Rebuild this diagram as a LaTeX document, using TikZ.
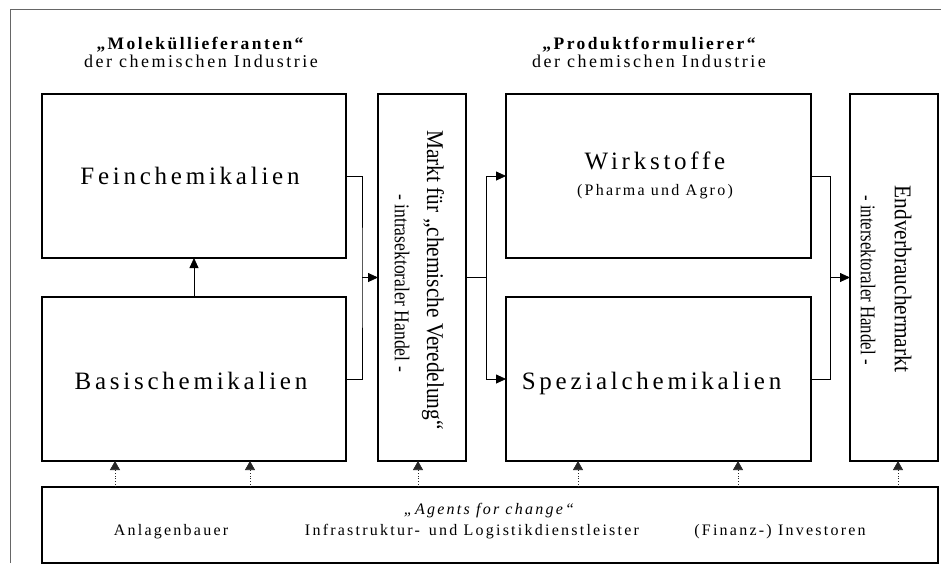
\documentclass[tikz,border=0pt]{standalone}
\usepackage{fontspec}
\setmainfont{Liberation Serif}
\newfontfamily\spaced[LetterSpace=15]{Liberation Serif}
\newfontfamily\smallspaced[LetterSpace=14]{Liberation Serif}
\newfontfamily\headfont[LetterSpace=14]{Liberation Serif}
\usetikzlibrary{arrows.meta}

\begin{document}
\begin{tikzpicture}[x=1pt,y=-1pt,
  frame/.style={draw=black!60, line width=0.9pt},
  box/.style={draw=black, line width=1.4pt, inner sep=0pt, outer sep=0pt, anchor=north west},
  link/.style={draw=black, line width=0.8pt},
  tip/.style={-{Triangle[length=10pt,width=9pt]}},
  agent/.style={draw=black!85, line width=0.7pt, dotted, -{Triangle[length=9pt,width=10pt]}},
  big/.style={font=\spaced\fontsize{25}{29}\selectfont},
  small/.style={font=\smallspaced\fontsize{16}{19}\selectfont},
  head/.style={font=\headfont\fontsize{18}{21}\selectfont, anchor=base},
  vmain/.style={rotate=-90, font=\fontsize{24}{28}\selectfont},
  vsub/.style={rotate=-90, font=\fontsize{21}{24}\selectfont}
]
\useasboundingbox (0,0) rectangle (941,563);

% outer frame (top and left edges)
\draw[frame] (10,563) -- (10,9) -- (941,9);

% column headings
\node[head, font=\headfont\bfseries\fontsize{17.5}{21}\selectfont] (h1a) at (200,49) {„Moleküllieferanten“};
\node[head] (h1b) at (201,67) {der chemischen Industrie};
\node[head, font=\headfont\bfseries\fontsize{17.5}{21}\selectfont] (h2a) at (649,49) {„Produktformulierer“};
\node[head] (h2b) at (649,67) {der chemischen Industrie};

% boxes
\node[box, minimum width=304pt, minimum height=164pt] (fein) at (42,94) {};
\node[box, minimum width=304pt, minimum height=164pt] (basis) at (42,297) {};
\node[box, minimum width=88pt, minimum height=367pt] (markt) at (378,94) {};
\node[box, minimum width=305pt, minimum height=164pt] (wirk) at (506,94) {};
\node[box, minimum width=305pt, minimum height=164pt] (spez) at (506,297) {};
\node[box, minimum width=88pt, minimum height=367pt] (endm) at (850,94) {};
\node[box, minimum width=896pt, minimum height=76pt] (agents) at (42,487) {};

% box labels
\node[big] (feint) at ([xshift=-4pt]fein.center) {Feinchemikalien};
\node[big] (basist) at ([xshift=-3pt,yshift=-2pt]basis.center) {Basischemikalien};
\node[big, anchor=base] (wirkt) at (655,169) {Wirkstoffe};
\node[small, anchor=base] (wirks) at (655,195) {(Pharma und Agro)};
\node[big] (spezt) at ([xshift=-7pt,yshift=-4pt]spez.center) {Spezialchemikalien};

% upright labels of the two market columns
\node[vmain] (marktt) at (433,280) {\scalebox{0.89}[1]{Markt für „chemische Veredelung“}};
\node[vsub] (marktu) at (402,283) {\scalebox{0.84}[1]{- intrasektoraler Handel -}};
\node[vmain] (endmt) at (903,279) {\scalebox{0.89}[1]{Endverbrauchermarkt}};
\node[vsub] (endmu) at (868,280) {\scalebox{0.8}[1]{- intersektoraler Handel -}};

\node[small, font=\smallspaced\itshape\fontsize{16}{19}\selectfont, anchor=base] (agt) at (489,514) {„Agents for change“};
\node[small, anchor=base] (ag1) at (171,535) {Anlagenbauer};
\node[small, anchor=base] (ag2) at (472,535) {Infrastruktur-\, und Logistikdienstleister};
\node[small, anchor=base] (ag3) at (780,535) {(Finanz-) Investoren};

% flows between boxes
\draw[link, tip] (basis.north) -- (fein.south);
\coordinate (jl) at (362,277.5);
\draw[link] (fein.east) -| (jl) |- (basis.east);
\draw[link, tip] (jl) -- (markt.west);
\coordinate (jm) at (486,277.5);
\draw[link] (markt.east) -- (jm);
\draw[link, tip] (jm) |- (wirk.west);
\draw[link, tip] (jm) |- (spez.west);
\coordinate (jr) at (830,277.5);
\draw[link] (wirk.east) -| (jr) |- (spez.east);
\draw[link, tip] (jr) -- (endm.west);

% influences of the agents
\coordinate (a1) at (115,0);
\coordinate (a2) at (250,0);
\coordinate (a3) at (418,0);
\coordinate (a4) at (578,0);
\coordinate (a5) at (738,0);
\coordinate (a6) at (898,0);
\draw[agent] (agents.north -| a1) -- (basis.south -| a1);
\draw[agent] (agents.north -| a2) -- (basis.south -| a2);
\draw[agent] (agents.north -| a3) -- (markt.south -| a3);
\draw[agent] (agents.north -| a4) -- (spez.south -| a4);
\draw[agent] (agents.north -| a5) -- (spez.south -| a5);
\draw[agent] (agents.north -| a6) -- (endm.south -| a6);
\end{tikzpicture}
\end{document}
